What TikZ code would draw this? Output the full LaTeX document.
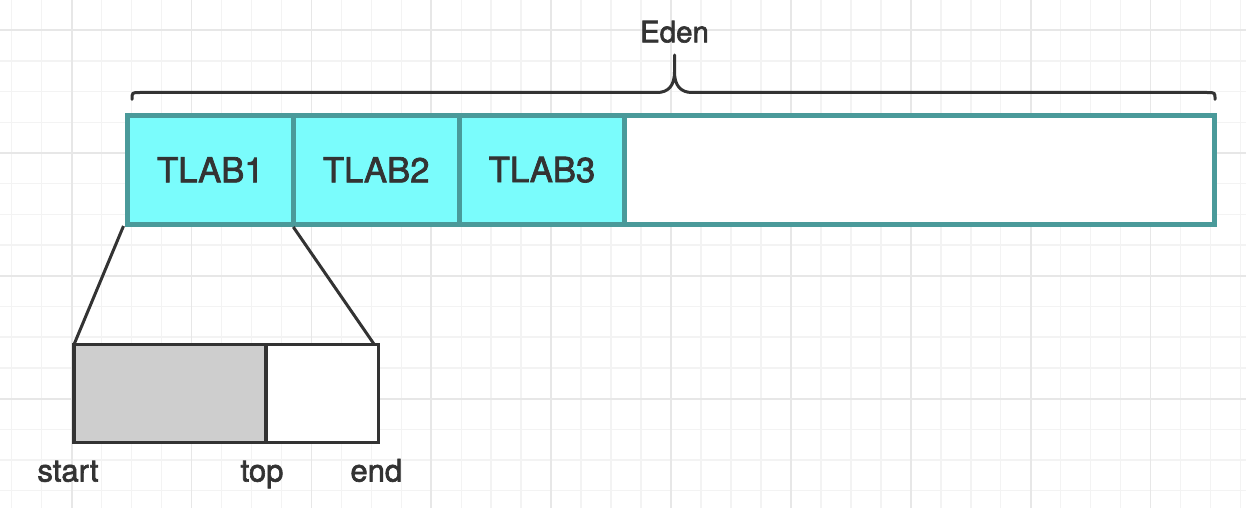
\documentclass[tikz,border=0pt]{standalone}
\usepackage{fontspec}
\setmainfont{TeX Gyre Heros}
\newfontfamily\labelfont{TeX Gyre Heros}[FakeBold=2]
\usetikzlibrary{positioning}

\definecolor{tlabfill}{RGB}{122,252,252}
\definecolor{tlabline}{RGB}{74,154,154}
\definecolor{ink}{RGB}{51,51,51}
\definecolor{usedfill}{RGB}{206,206,206}
\definecolor{gridminor}{RGB}{243,243,243}
\definecolor{gridmajor}{RGB}{231,231,231}

\begin{document}
\begin{tikzpicture}[x=1pt,y=-1pt,node distance=0pt,
    cell/.style={draw=tlabline,line width=5pt,outer sep=0pt,minimum height=108.5pt,
      font=\labelfont\fontsize{34.7}{40}\selectfont,text=ink},
    tlab/.style={cell,fill=tlabfill,minimum width=165.8pt},
    part/.style={draw=ink,line width=3.5pt,outer sep=0pt,minimum height=98pt},
    lbl/.style={font=\labelfont\fontsize{31}{36}\selectfont,text=ink,anchor=base},
    link/.style={draw=ink,line width=3pt},
    brace/.style={draw=ink,line width=3pt,line cap=round}]
  \useasboundingbox[fill=white] (0,0) rectangle (1246,508);

  % background grid
  \foreach \i in {0,...,41}
    \draw[gridminor,line width=1.5pt] (11.7+29.97*\i,0) -- (11.7+29.97*\i,508);
  \foreach \j in {1,...,16}
    \draw[gridminor,line width=1.5pt] (0,30.7*\j-0.5) -- (1246,30.7*\j-0.5);
  \foreach \i in {2,6,...,38}
    \draw[gridmajor,line width=1.8pt] (11.7+29.97*\i,0) -- (11.7+29.97*\i,508);
  \foreach \j in {1,5,9,13}
    \draw[gridmajor,line width=1.8pt] (0,30.7*\j-0.5) -- (1246,30.7*\j-0.5);

  % eden
  \node[tlab,anchor=west] (tlab1) at (127.5,169.75) {TLAB1};
  \node[tlab] (tlab2) [right=of tlab1] {TLAB2};
  \node[tlab] (tlab3) [right=of tlab2] {TLAB3};
  \node[cell,fill=white,minimum width=589.1pt] (rest) [right=of tlab3] {};

  \draw[brace] (132,99.3) .. controls (132,92.5) .. (140,92.5) -- (657,92.5)
    .. controls (668,92.5) and (674.5,86) .. (674.5,72) -- (674.5,55)
    (674.5,72) .. controls (674.5,86) and (681,92.5) .. (692,92.5) -- (1207,92.5)
    .. controls (1215,92.5) .. (1215,99.3);
  \node[lbl,font=\labelfont\fontsize{29.5}{34}\selectfont] (eden) at (674.5,42.3) {Eden};

  % one tlab
  \node[part,fill=usedfill,anchor=west,minimum width=192pt] (used) at (74,393.5) {};
  \node[part,fill=white,minimum width=112.3pt] (free) [right=of used] {};

  \draw[link] ([xshift=-4pt,yshift=-2pt]tlab1.south west) -- (used.north west);
  \draw[link] ([yshift=-3pt]tlab1.south east) -- ([xshift=-4pt]free.north east);

  \node[lbl] (start) at ([xshift=-6pt,yshift=-39pt]used.south west) {start};
  \node[lbl] (top) at ([xshift=-4pt,yshift=-39pt]used.south east) {top};
  \node[lbl] (end) at ([xshift=-2pt,yshift=-39pt]free.south east) {end};
\end{tikzpicture}
\end{document}
